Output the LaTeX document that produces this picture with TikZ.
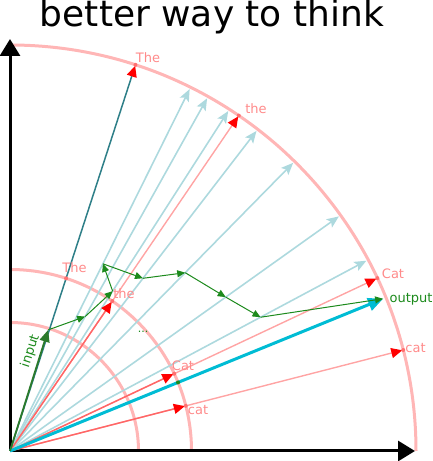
\documentclass[tikz,border=0pt]{standalone}
\usepackage{fontspec}
\setmainfont{DejaVu Sans}
\usetikzlibrary{arrows.meta}
\definecolor{arcred}{HTML}{FFB6B6}
\definecolor{vocabc}{HTML}{ADD9DE}
\definecolor{wordlbl}{HTML}{FF8A8A}
\definecolor{redfar}{HTML}{FFA4A4}
\definecolor{rednear}{HTML}{FF6666}
\definecolor{tealc}{HTML}{2E7F88}
\definecolor{outc}{HTML}{00BCD4}
\definecolor{grn}{HTML}{1C8A1C}
\definecolor{inc}{HTML}{2B7A2B}
\definecolor{dotc}{HTML}{FF7070}
\begin{document}
\begin{tikzpicture}[x=1pt,y=1pt,
  arcline/.style={arcred,line width=3pt},
  axisline/.style={black,line width=3pt,-{Triangle[width=20pt,length=17pt]}},
  vocab/.style={vocabc,line width=1.6pt,-{Stealth[length=12pt,width=10pt,inset=2.5pt]}},
  farword/.style={redfar,line width=1.4pt,-{Triangle[length=11pt,width=10pt,color=red]}},
  nearword/.style={rednear,line width=1.4pt,-{Triangle[length=11pt,width=10pt,color=red]}},
  theline/.style={tealc,line width=1.5pt,-{Triangle[length=11pt,width=10pt,color=red]}},
  outvec/.style={outc,line width=3pt,-{Triangle[length=15pt,width=13pt]}},
  invec/.style={inc,line width=1.8pt,-{Triangle[length=12pt,width=10pt]}},
  walk/.style={grn,line width=1pt,-{Triangle[length=8pt,width=7pt]}},
  wlabel/.style={wordlbl,font=\fontsize{13}{15}\selectfont,anchor=base,inner sep=0pt},
  wdot/.style={circle,fill=dotc,inner sep=0pt,minimum size=4pt},
  gdot/.style={circle,fill=grn,inner sep=0pt,minimum size=4pt},
]
\useasboundingbox (0,0) rectangle (433,461);
\coordinate (O) at (10,10);
% title
\node[font=\fontsize{36}{40}\selectfont,anchor=base] (title) at (212,434) {better way to think};
% arcs
\draw[arcline] (416,10) arc[start angle=0,end angle=90,radius=406];
\draw[arcline] (191.5,10) arc[start angle=0,end angle=90,radius=181.5];
\draw[arcline] (138.5,10) arc[start angle=0,end angle=90,radius=128.5];
% axes
\coordinate (xend) at (415,10);
\coordinate (yend) at (10,422);
\draw[axisline] (O) -- (yend);
\draw[axisline] (O) -- (xend);
% vocabulary vectors
\foreach \a/\n in {63.6/1,60.8/2,57.3/3,52.4/4,45.5/5,35.5/6,28.1/7}{
  \path (O) ++(\a:404) coordinate (v\n);
  \draw[vocab] (O) -- (v\n);
}
% word points
\path (O) ++(72:406) coordinate (The3);
\path (O) ++(55.7:406) coordinate (the3);
\path (O) ++(25.2:406) coordinate (Cat3);
\path (O) ++(14.4:406) coordinate (cat3);
\path (O) ++(72:181.5) coordinate (The2);
\path (O) ++(55.7:181.5) coordinate (the2);
\path (O) ++(25.2:181.5) coordinate (Cat2);
\path (O) ++(14.4:181.5) coordinate (cat2);
\draw[farword,shorten >=1pt] (O) -- (the3);
\draw[farword,shorten >=1pt] (O) -- (Cat3);
\draw[farword,shorten >=1pt] (O) -- (cat3);
\draw[nearword,shorten >=1pt] (O) -- (the2);
\draw[nearword,shorten >=1pt] (O) -- (Cat2);
\draw[nearword,shorten >=1pt] (O) -- (cat2);
\draw[theline,shorten >=1pt] (O) -- (The3);
% walk points
\path (O) ++(72.5:127) coordinate (p0);
\path (O) ++(60.8:154) coordinate (p1);
\path (O) ++(57.3:190) coordinate (p2);
\path (O) ++(63.6:209) coordinate (p3);
\path (O) ++(52.4:218) coordinate (p4);
\path (O) ++(45.5:250) coordinate (p5);
\path (O) ++(35.5:265) coordinate (p6);
\path (O) ++(28.1:284) coordinate (p7);
\path (O) ++(22.2:403) coordinate (p8);
\path (O) ++(22.2:181.5) coordinate (pm);
\draw[outvec] (O) -- (p8);
\draw[invec] (O) -- (p0);
\draw[walk] (p0) -- (p1);
\draw[walk] (p1) -- (p2);
\draw[walk] (p2) -- (p3);
\draw[walk] (p3) -- (p4);
\draw[walk] (p4) -- (p5);
\draw[walk] (p5) -- (p6);
\draw[walk] (p6) -- (p7);
\draw[walk] (p7) -- (p8);
% dots
\foreach \c in {The3,the3,Cat3,cat3,The2,the2,Cat2,cat2}{
  \node[wdot] (d\c) at (\c) {};
}
\node[gdot] (dpm) at (pm) {};
% labels
\node[wlabel] (lThe3) at (148,398) {The};
\node[wlabel] (lthe3) at (256,347) {the};
\node[wlabel] (lCat3) at (393,182) {Cat};
\node[wlabel] (lcat3) at (415.5,108) {cat};
\node[wlabel] (lThe2) at (74.5,188) {The};
\node[wlabel] (lthe2) at (124,162) {the};
\node[wlabel] (lCat2) at (183,90) {Cat};
\node[wlabel] (lcat2) at (198,46) {cat};
\node[wlabel,text=grn] (lout) at (411,158) {output};
\node[text=grn,font=\fontsize{13}{15}\selectfont,inner sep=0pt,rotate=72] (lin) at (30.5,110) {input};
\node[text=grn,font=\fontsize{11}{12}\selectfont,anchor=base,inner sep=0pt] (ldots) at (143,128) {...};
\end{tikzpicture}
\end{document}
